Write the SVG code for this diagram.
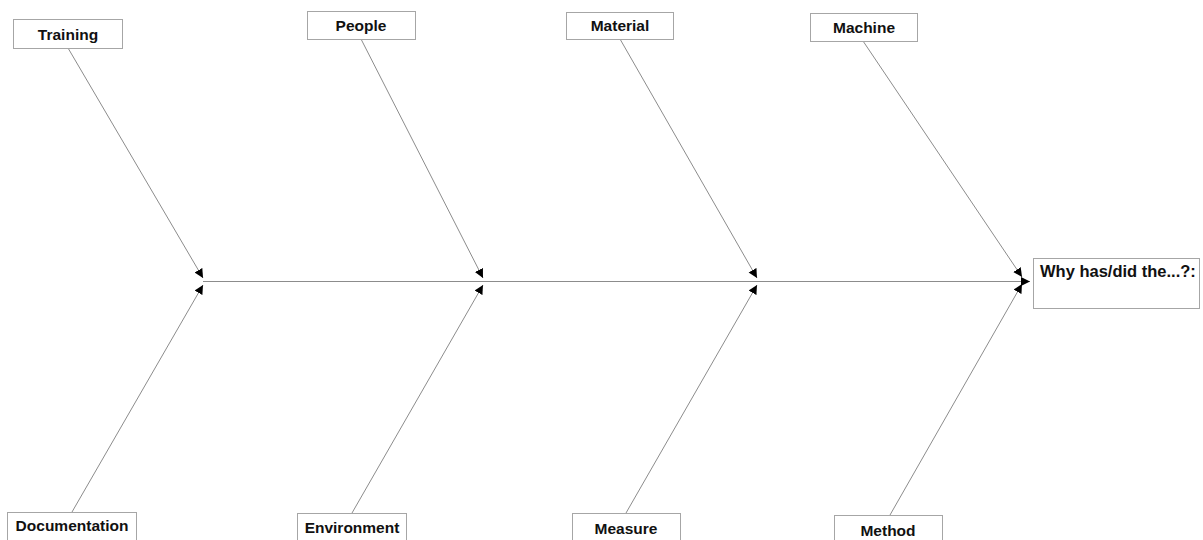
<svg xmlns="http://www.w3.org/2000/svg" width="1203" height="540" viewBox="0 0 1203 540">
  <style>
    .box { fill: #ffffff; stroke: #a6a6a6; stroke-width: 1; }
    .lbl { font-family: "Liberation Sans", Arial, sans-serif; font-weight: bold; font-size: 15.5px; fill: #111111; }
    .big { font-size: 16.5px; }
    .bone { stroke: #8c8c8c; stroke-width: 1; fill: none; marker-end: url(#arr); }
  </style>
  <defs>
    <marker id="arr" markerUnits="userSpaceOnUse" markerWidth="10" markerHeight="10" refX="9" refY="4.5" orient="auto">
      <path d="M0,0 L9,4.5 L0,9 z" fill="#000000"/>
    </marker>
  </defs>
  <rect x="0" y="0" width="1203" height="540" fill="#ffffff"/>
  <g id="connectors">
    <line class="bone" x1="68" y1="48" x2="203" y2="278"/>
    <line class="bone" x1="72" y1="512" x2="203" y2="285"/>
    <line class="bone" x1="361" y1="39" x2="483" y2="278"/>
    <line class="bone" x1="352" y1="513" x2="483" y2="285"/>
    <line class="bone" x1="620" y1="39" x2="757" y2="278"/>
    <line class="bone" x1="626" y1="513" x2="757" y2="285"/>
    <line class="bone" x1="863" y1="41" x2="1022" y2="277"/>
    <line class="bone" x1="890" y1="515" x2="1022" y2="284"/>
    <line class="bone" x1="203" y1="281.5" x2="1030" y2="281.5"/>
  </g>
  <g id="training">
    <rect class="box" x="13.5" y="19.5" width="109" height="29"/>
    <text class="lbl" x="68" y="40" text-anchor="middle">Training</text>
  </g>
  <g id="people">
    <rect class="box" x="307.5" y="11.5" width="108" height="28"/>
    <text class="lbl" x="361" y="31" text-anchor="middle">People</text>
  </g>
  <g id="material">
    <rect class="box" x="566.5" y="12.5" width="107" height="27"/>
    <text class="lbl" x="620" y="31" text-anchor="middle">Material</text>
  </g>
  <g id="machine">
    <rect class="box" x="810.5" y="13.5" width="107" height="28"/>
    <text class="lbl" x="864" y="33" text-anchor="middle">Machine</text>
  </g>
  <g id="documentation">
    <rect class="box" x="7.5" y="512.5" width="129" height="32"/>
    <text class="lbl" x="72" y="531" text-anchor="middle">Documentation</text>
  </g>
  <g id="environment">
    <rect class="box" x="297.5" y="513.5" width="109" height="32"/>
    <text class="lbl" x="352" y="533" text-anchor="middle">Environment</text>
  </g>
  <g id="measure">
    <rect class="box" x="572.5" y="513.5" width="108" height="32"/>
    <text class="lbl" x="626" y="534" text-anchor="middle">Measure</text>
  </g>
  <g id="method">
    <rect class="box" x="834.5" y="515.5" width="108" height="32"/>
    <text class="lbl" x="888" y="536" text-anchor="middle">Method</text>
  </g>
  <g id="effect">
    <rect class="box" x="1033.5" y="258.5" width="166" height="50"/>
    <text class="lbl big" x="1040" y="277">Why has/did the...?:</text>
  </g>
</svg>
